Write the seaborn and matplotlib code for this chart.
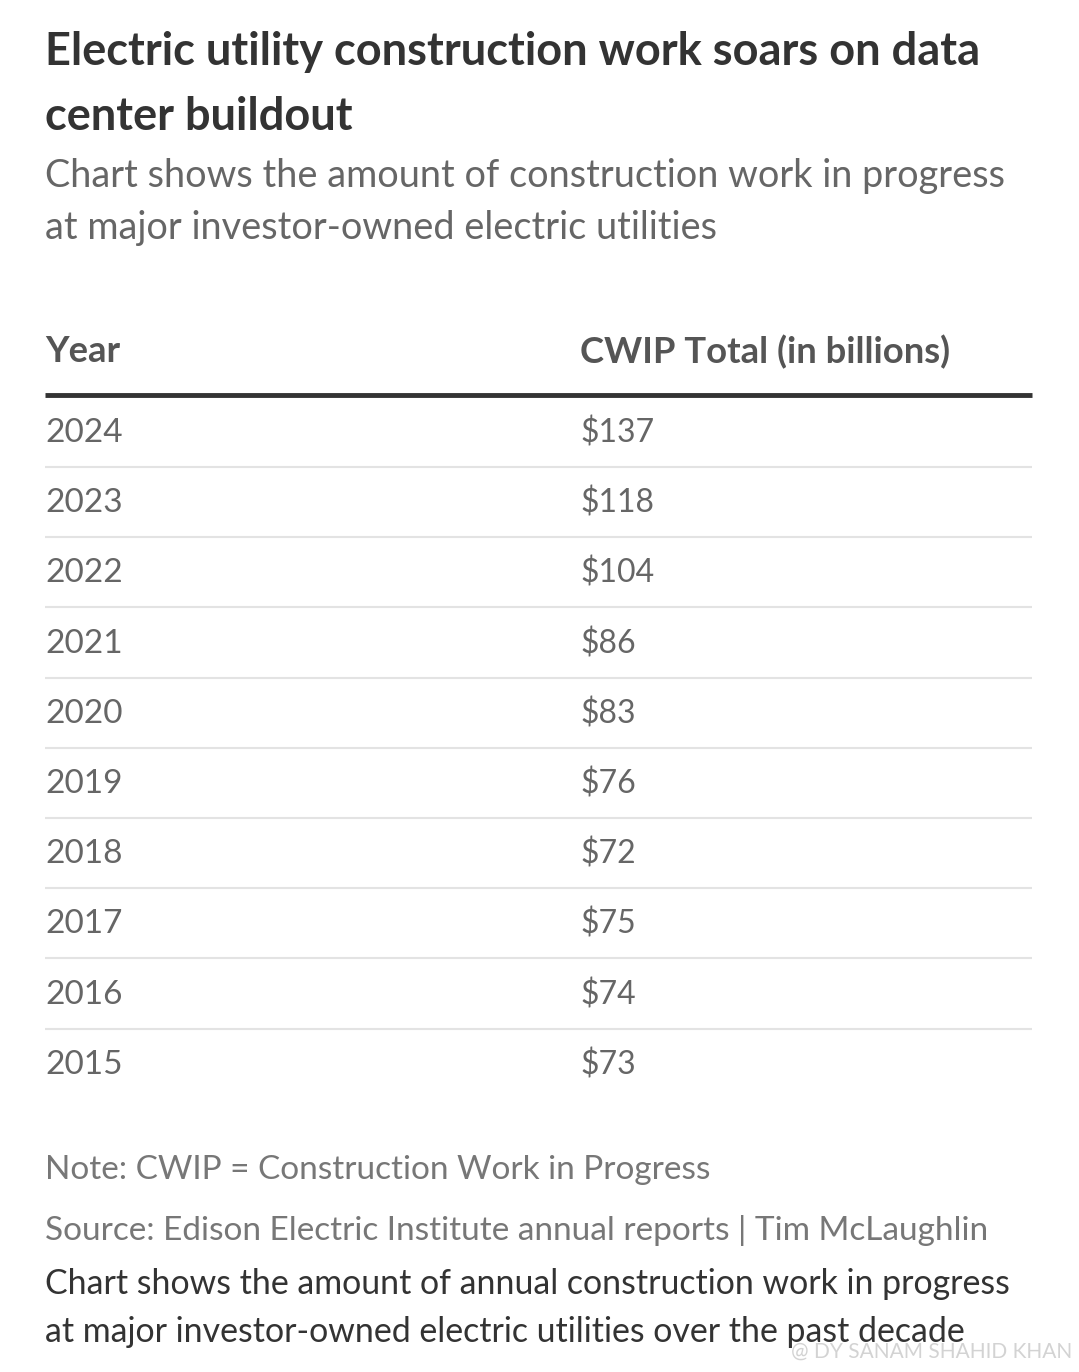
import matplotlib.pyplot as plt
import seaborn as sns

years = [2024, 2023, 2022, 2021, 2020, 2019, 2018, 2017, 2016, 2015]
cwip = [137, 118, 104, 86, 83, 76, 72, 75, 74, 73]

sns.set_theme(style="white")
plt.rcParams['font.family'] = ['Lato', 'DejaVu Sans']

fig = plt.figure(figsize=(10.79, 13.72), dpi=100)
ax = fig.add_axes([0, 0, 1, 1])
ax.set_xlim(0, 1079)
ax.set_ylim(1372, 0)
ax.axis('off')

dark = '#333333'
grey = '#666666'

# title + subtitle
ax.text(45, 52, "Electric utility construction work soars on data", fontsize=32.5, fontweight='bold', color=dark, va='center')
ax.text(45, 117, "center buildout", fontsize=32.5, fontweight='bold', color=dark, va='center')
ax.text(45, 176, "Chart shows the amount of construction work in progress", fontsize=27.3, color=grey, va='center')
ax.text(45, 228, "at major investor-owned electric utilities", fontsize=27.3, color=grey, va='center')

# header
ax.text(45, 352, "Year", fontsize=26.2, fontweight='bold', color='#555555', va='center')
ax.text(580, 352, "CWIP Total (in billions)", fontsize=26.2, fontweight='bold', color='#555555', va='center')
ax.hlines(395, 45, 1032, color=dark, lw=3.5)

# rows
row0, step = 433, 70.2
for i, (yr, v) in enumerate(zip(years, cwip)):
    y = row0 + i * step
    ax.text(45, y, str(yr), fontsize=24, color=grey, va='center')
    ax.text(580, y, f"${v}", fontsize=23, color=grey, va='center')
    if i < len(years) - 1:
        ax.hlines(y + 34, 45, 1032, color='#e3e3e3', lw=1.5)

# notes
ax.text(45, 1170, "Note: CWIP = Construction Work in Progress", fontsize=24, color='#777777', va='center')
ax.text(45, 1230, "Source: Edison Electric Institute annual reports | Tim McLaughlin", fontsize=24, color='#777777', va='center')
ax.text(45, 1284, "Chart shows the amount of annual construction work in progress", fontsize=24.4, color=dark, va='center')
ax.text(45, 1332, "at major investor-owned electric utilities over the past decade", fontsize=24.4, color=dark, va='center')
ax.text(1072, 1352, "@ DY SANAM SHAHID KHAN", fontsize=15, color='#c8c8c8', va='center', ha='right', alpha=0.8)

fig.savefig('out.png', dpi=100, facecolor='white')
